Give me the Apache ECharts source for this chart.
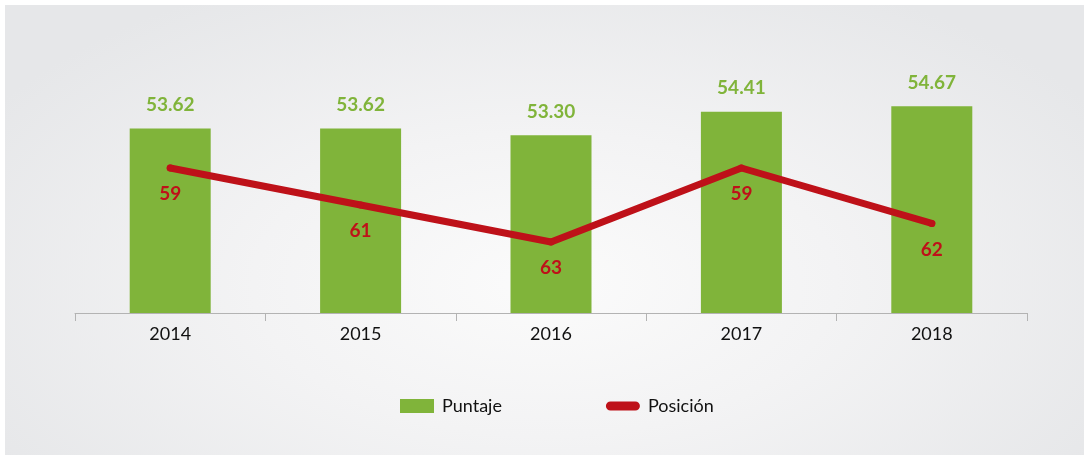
<!DOCTYPE html>
<html>
<head>
<meta charset="utf-8">
<script src="https://cdn.jsdelivr.net/npm/echarts@6/dist/echarts.min.js"></script>
<style>
html,body{margin:0;padding:0;background:#ffffff;}
#panel{position:absolute;left:5px;top:5px;width:1079px;height:450px;
background:radial-gradient(ellipse 60% 75% at 50% 62%, #fbfbfb 0%, #f3f3f4 45%, #e6e7e9 100%);}
#chart{position:absolute;left:0;top:0;width:1084px;height:455px;}
</style>
</head>
<body>
<div id="panel"></div>
<div id="chart"></div>
<script>
const categories = ['2014', '2015', '2016', '2017', '2018'];
const puntaje = [53.62, 53.62, 53.30, 54.41, 54.67];
const posicion = [59, 61, 63, 59, 62];
const seriesNames = ['Puntaje', 'Posición'];

const GREEN = '#80b43a';
const RED = '#be1119';
const FONT = 'Lato, "DejaVu Sans", sans-serif';

const chart = echarts.init(document.getElementById('chart'), null, {renderer: 'canvas'});
chart.setOption({
  backgroundColor: 'transparent',
  animation: false,
  textStyle: {fontFamily: FONT},
  grid: {left: 75, right: 57, top: 78, bottom: 142, containLabel: false},
  legend: {
    left: 395, top: 392,
    itemWidth: 34, itemHeight: 14, itemGap: 104,
    textStyle: {fontFamily: FONT, fontSize: 18, color: '#111111', padding: [0, 0, 0, 3]},
    data: [
      {name: seriesNames[0], icon: 'rect'},
      {name: seriesNames[1], icon: 'path://M5,0 L32,0 A5,5 0 0 1 32,10 L5,10 A5,5 0 0 1 5,0 Z'}
    ]
  },
  xAxis: {
    type: 'category',
    data: categories,
    boundaryGap: true,
    axisLine: {lineStyle: {color: '#b3b3b3', width: 1}},
    axisTick: {show: true, length: 8, lineStyle: {color: '#b3b3b3'}},
    axisLabel: {fontFamily: FONT, fontSize: 18, color: '#111111', margin: 12}
  },
  yAxis: [
    {type: 'value', min: 44.9, max: 56, show: false, splitLine: {show: false}},
    {type: 'value', min: 54.135, max: 66.84, inverse: true, show: false, splitLine: {show: false}}
  ],
  series: [
    {
      name: seriesNames[0], type: 'bar', data: puntaje, yAxisIndex: 0,
      barWidth: 81,
      itemStyle: {color: GREEN},
      label: {show: true, position: 'top', distance: 14, color: GREEN,
        fontFamily: FONT, fontWeight: 'bold', fontSize: 19,
        formatter: p => p.value.toFixed(2)}
    },
    {
      name: seriesNames[1], type: 'line', data: posicion, yAxisIndex: 1,
      symbol: 'circle', symbolSize: 7, showSymbol: true,
      itemStyle: {color: RED},
      lineStyle: {color: RED, width: 7, cap: 'round', join: 'round'},
      label: {show: true, position: 'bottom', distance: 13, color: RED,
        fontFamily: FONT, fontWeight: 'bold', fontSize: 19}
    }
  ]
});
</script>
</body>
</html>
